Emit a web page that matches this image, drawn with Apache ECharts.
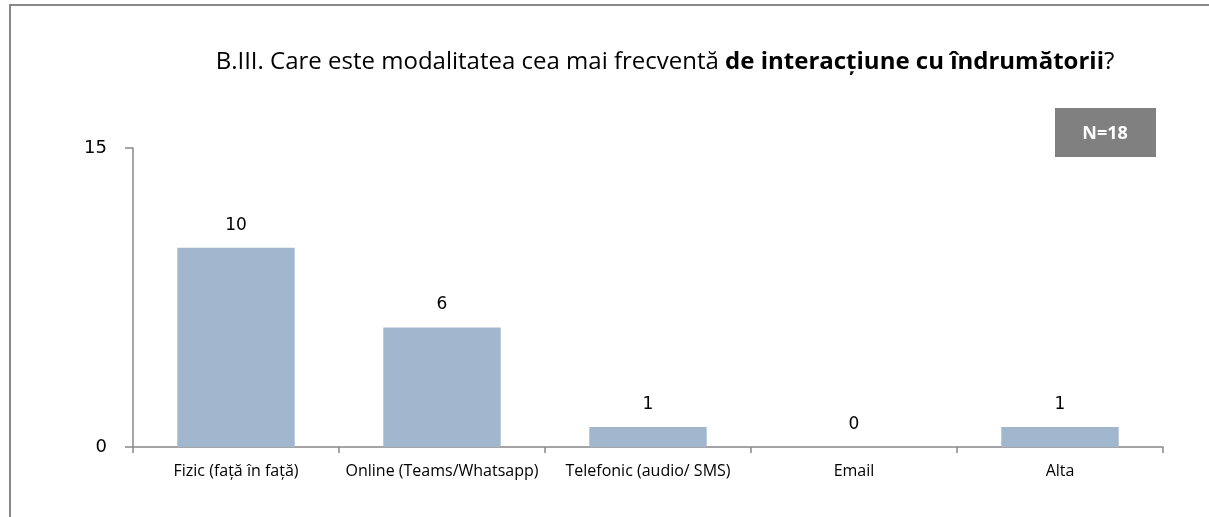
<!DOCTYPE html>
<html>
<head>
<meta charset="utf-8">
<script src="https://cdn.jsdelivr.net/npm/echarts@6/dist/echarts.min.js"></script>
<style>
html,body{margin:0;padding:0;background:#fff;}
#chart{width:1209px;height:517px;}
</style>
</head>
<body>
<div id="chart"></div>
<script>
// date
var categories = ['Fizic (față în față)', 'Online (Teams/Whatsapp)', 'Telefonic (audio/ SMS)', 'Email', 'Alta'];
var values = [10, 6, 1, 0, 1];
var yTicks = [0, 15];
var titleNormal = 'B.III. Care este modalitatea cea mai frecventă ';
var titleBold = 'de interacțiune cu îndrumătorii';
var nLabel = 'N=18';

var chart = echarts.init(document.getElementById('chart'));
var option = {
	backgroundColor: '#fff',
	animation: false,
	title: {
		text: '{n|' + titleNormal + '}{b|' + titleBold + '}{n|?}',
		left: 660,
		textAlign: 'center',
		top: 45,
		textStyle: {
			fontWeight: 'normal',
			rich: {
				n: { fontFamily: 'Open Sans', fontSize: 24, fontWeight: 'normal', color: '#000' },
				b: { fontFamily: 'Open Sans', fontSize: 24, fontWeight: 'bold', color: '#000' }
			}
		}
	},
	grid: { left: 133, right: 46, top: 148, bottom: 70 },
	xAxis: {
		type: 'category',
		data: categories,
		axisLine: { lineStyle: { color: '#888', width: 1.5 } },
		axisTick: { show: true, length: 6, lineStyle: { color: '#888', width: 1.5 } },
		axisLabel: { interval: 0, color: '#000', fontFamily: 'Open Sans', fontSize: 16, margin: 16 }
	},
	yAxis: {
		type: 'value',
		min: yTicks[0],
		max: yTicks[1],
		interval: 15,
		splitLine: { show: false },
		axisLine: { show: true, lineStyle: { color: '#888', width: 1.5 } },
		axisTick: { show: true, length: 8, lineStyle: { color: '#888', width: 1.5 } },
		axisLabel: { color: '#000', fontFamily: 'DejaVu Sans', fontSize: 18, margin: 26 }
	},
	series: [{
		type: 'bar',
		data: values,
		barWidth: '57%',
		itemStyle: { color: '#a1b7ce' },
		label: {
			show: true,
			position: 'top',
			distance: 14,
			color: '#000',
			fontFamily: 'DejaVu Sans',
			fontSize: 17
		}
	}],
	graphic: [
		{
			type: 'polyline',
			shape: { points: [[10, 517], [10, 5], [1209, 5]] },
			style: { stroke: '#888', lineWidth: 2, fill: null }
		},
		{
			type: 'rect',
			shape: { x: 1055, y: 108, width: 101, height: 49 },
			style: { fill: '#808080' }
		},
		{
			type: 'text',
			x: 1105,
			y: 134,
			style: {
				text: nLabel,
				fill: '#fff',
				font: 'bold 18px "Open Sans"',
				textAlign: 'center',
				textVerticalAlign: 'middle'
			}
		}
	]
};
chart.setOption(option);
</script>
</body>
</html>
